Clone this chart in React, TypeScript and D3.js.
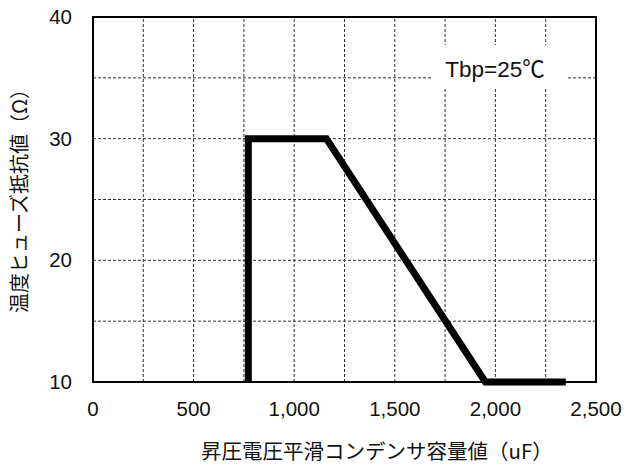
import React from "react";
import * as d3 from "d3";

// values
const capacitance = [772, 772, 1160, 1950, 2350];
const resistance = [10, 30, 30, 10, 10];
const xTicks = [0, 500, 1000, 1500, 2000, 2500];
const yTicks = [10, 20, 30, 40];
const xGrid = [250, 500, 750, 1000, 1250, 1500, 1750, 2000, 2250];
const yGrid = [15, 20, 25, 30, 35];
const xTitle = "昇圧電圧平滑コンデンサ容量値（uF）";
const yTitle = "温度ヒューズ抵抗値（Ω）";
const note = "Tbp=25℃";

const W = 630;
const H = 464;
const margin = { top: 17, right: 34, bottom: 82, left: 93 };
const latin = "'Liberation Sans', Arial, 'Noto Sans CJK JP', sans-serif";
const cjk = "'Noto Sans CJK JP', sans-serif";

export default function App() {
  const x = d3
    .scaleLinear()
    .domain([0, 2500])
    .range([margin.left, W - margin.right]);
  const y = d3
    .scaleLinear()
    .domain([10, 40])
    .range([H - margin.bottom, margin.top]);

  const line = d3
    .line<number>()
    .x((d) => x(d))
    .y((_, i) => y(resistance[i]));

  const fmt = d3.format(",");

  return (
    <div style={{ position: "absolute", left: 0, top: 0 }}>
      <svg width={W} height={H} style={{ background: "#fff", display: "block" }}>
        {/* grid */}
        <g stroke="#333" strokeWidth={1} strokeDasharray="3,2">
          {xGrid.map((v) => (
            <line key={"gx" + v} x1={x(v)} x2={x(v)} y1={y(10)} y2={y(40)} />
          ))}
          {yGrid.map((v) => (
            <line key={"gy" + v} x1={x(0)} x2={x(2500)} y1={y(v)} y2={y(v)} />
          ))}
        </g>

        {/* note box */}
        <rect x={431} y={45} width={137} height={43} fill="#fff" />
        <text
          x={495}
          y={77}
          textAnchor="middle"
          fontFamily={latin}
          fontSize={22.5}
          fill="#111"
        >
          {note}
        </text>

        {/* frame */}
        <rect
          x={x(0)}
          y={y(40)}
          width={x(2500) - x(0)}
          height={y(10) - y(40)}
          fill="none"
          stroke="#000"
          strokeWidth={2}
        />

        {/* curve */}
        <path
          d={line(capacitance) || ""}
          fill="none"
          stroke="#000"
          strokeWidth={7}
          strokeLinejoin="miter"
        />

        {/* y tick labels */}
        {yTicks.map((v) => (
          <text
            key={"yt" + v}
            x={72}
            y={y(v) + 7}
            textAnchor="end"
            fontFamily={latin}
            fontSize={20.5}
            fill="#111"
          >
            {v}
          </text>
        ))}

        {/* x tick labels */}
        {xTicks.map((v) => (
          <text
            key={"xt" + v}
            x={x(v)}
            y={416}
            textAnchor="middle"
            fontFamily={latin}
            fontSize={20.5}
            fill="#111"
          >
            {fmt(v)}
          </text>
        ))}

        {/* axis titles */}
        <text
          x={377}
          y={459}
          textAnchor="middle"
          fontFamily={cjk}
          fontSize={20.5}
          fill="#111"
        >
          {xTitle}
        </text>
        <text
          transform={`translate(27,196) rotate(-90)`}
          textAnchor="middle"
          fontFamily={cjk}
          fontSize={20}
          fill="#111"
        >
          {yTitle}
        </text>
      </svg>
    </div>
  );
}
